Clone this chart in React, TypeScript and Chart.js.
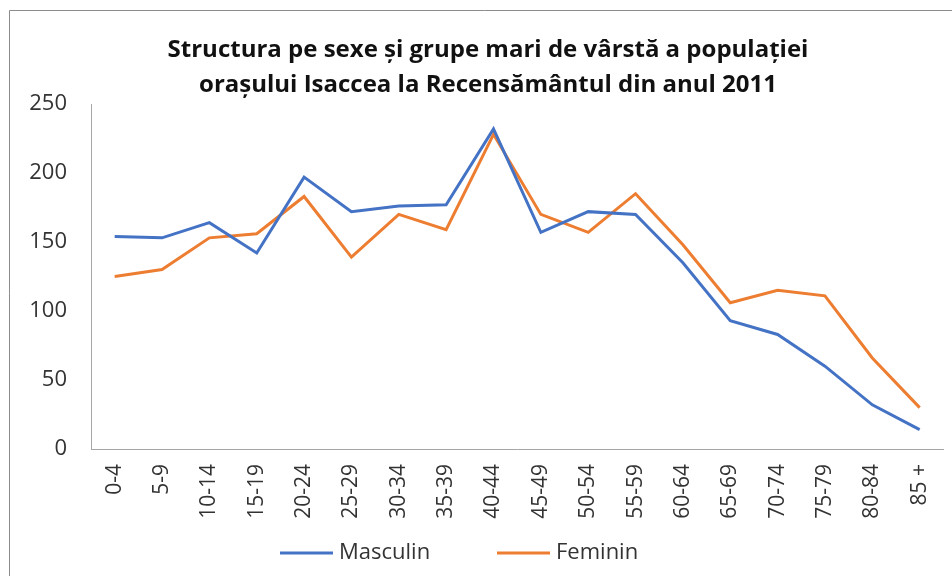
import React, { useEffect, useRef } from "react";
import { Chart, registerables } from "chart.js";

Chart.register(...registerables);

const categories = [
  "0-4", "5-9", "10-14", "15-19", "20-24", "25-29", "30-34", "35-39", "40-44",
  "45-49", "50-54", "55-59", "60-64", "65-69", "70-74", "75-79", "80-84", "85 +",
];
const masculin = [154, 153, 164, 142, 197, 172, 176, 177, 232, 157, 172, 170, 135, 93, 83, 60, 32, 14];
const feminin = [125, 130, 153, 156, 183, 139, 170, 159, 228, 170, 157, 185, 148, 106, 115, 111, 66, 30];
const titleLines = [
  "Structura pe sexe și grupe mari de vârstă a populației",
  "orașului Isaccea la Recensământul din anul 2011",
];
const yTicks = [0, 50, 100, 150, 200, 250];

const FONT = "'Open Sans', 'DejaVu Sans', sans-serif";

const framePlugin = {
  id: "frame",
  beforeDraw(chart: any) {
    const { ctx } = chart;
    ctx.save();
    ctx.strokeStyle = "#8c8c8c";
    ctx.lineWidth = 1;
    ctx.beginPath();
    ctx.moveTo(9.5, chart.height);
    ctx.lineTo(9.5, 10.5);
    ctx.lineTo(chart.width, 10.5);
    ctx.stroke();
    ctx.restore();
  },
};

const titlePlugin = {
  id: "customTitle",
  afterDraw(chart: any) {
    const { ctx } = chart;
    ctx.save();
    ctx.fillStyle = "#111111";
    ctx.font = `bold 24px ${FONT}`;
    ctx.textAlign = "center";
    ctx.textBaseline = "middle";
    ctx.fillText(titleLines[0], 488, 50);
    ctx.fillText(titleLines[1], 488, 85);
    ctx.restore();
  },
};

const legendPlugin = {
  id: "customLegend",
  afterDraw(chart: any) {
    const { ctx } = chart;
    const ds = chart.data.datasets;
    const starts = [280, 497];
    ctx.save();
    ctx.font = `22px ${FONT}`;
    ctx.textBaseline = "middle";
    ctx.textAlign = "left";
    ds.forEach((d: any, i: number) => {
      const x = starts[i];
      const y = 553;
      ctx.strokeStyle = d.borderColor;
      ctx.lineWidth = 3;
      ctx.beginPath();
      ctx.moveTo(x, y);
      ctx.lineTo(x + 53, y);
      ctx.stroke();
      ctx.fillStyle = "#333333";
      ctx.fillText(d.label, x + 59, y);
    });
    ctx.restore();
  },
};

export default function App() {
  const ref = useRef<HTMLCanvasElement | null>(null);
  useEffect(() => {
    if (!ref.current) return;
    const chart = new Chart(ref.current, {
      type: "line",
      data: {
        labels: categories,
        datasets: [
          {
            label: "Masculin",
            data: masculin,
            borderColor: "#4472C4",
            backgroundColor: "#4472C4",
            borderWidth: 3,
            pointRadius: 0,
            tension: 0,
          },
          {
            label: "Feminin",
            data: feminin,
            borderColor: "#ED7D31",
            backgroundColor: "#ED7D31",
            borderWidth: 3,
            pointRadius: 0,
            tension: 0,
          },
        ],
      },
      options: {
        animation: false,
        responsive: false,
        maintainAspectRatio: false,
        layout: { padding: { top: 104, left: 0, right: 5, bottom: 0 } },
        plugins: {
          legend: { display: false },
          title: { display: false },
          tooltip: { enabled: false },
        },
        scales: {
          x: {
            type: "category",
            offset: true,
            grid: { display: false, drawTicks: false },
            border: { display: true, color: "#a6a6a6", width: 1 },
            ticks: {
              autoSkip: false,
              minRotation: 90,
              maxRotation: 90,
              padding: 15,
              color: "#333333",
              font: { family: FONT, size: 21 },
            },
            afterFit(scale: any) {
              scale.height = 127;
            },
          },
          y: {
            min: 0,
            max: 250,
            afterBuildTicks(scale: any) {
              scale.ticks = yTicks.map((v) => ({ value: v }));
            },
            grid: { display: false, drawTicks: false },
            border: { display: true, color: "#a6a6a6", width: 1 },
            ticks: {
              padding: 24,
              color: "#333333",
              font: { family: FONT, size: 22 },
            },
            afterFit(scale: any) {
              scale.width = 91;
            },
          },
        },
      },
      plugins: [framePlugin, titlePlugin, legendPlugin],
    });
    return () => chart.destroy();
  }, []);
  return (
    <div style={{ position: "fixed", left: 0, top: 0, width: 952, height: 576, overflow: "hidden", background: "#fff" }}>
      <canvas ref={ref} width={960} height={576} style={{ display: "block", width: 960, height: 576 }} />
    </div>
  );
}
